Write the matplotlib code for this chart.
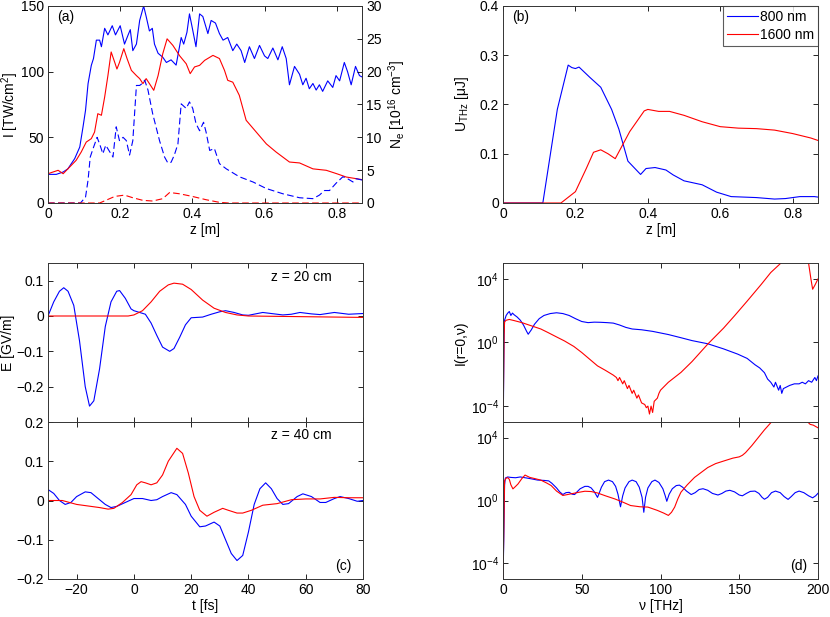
import numpy as np
import matplotlib
matplotlib.use("Agg")
import matplotlib.pyplot as plt

plt.rcParams['font.family'] = ['Liberation Sans', 'DejaVu Sans']
FS = 10
plt.rcParams['font.size'] = FS
plt.rcParams['mathtext.fontset'] = 'custom'
plt.rcParams['mathtext.rm'] = 'Liberation Sans'
plt.rcParams['mathtext.it'] = 'Liberation Sans'

BLUE = '#0000ff'
RED = '#ff0000'

# ---------------- panel (a) ----------------
za_blue = [0, 0.023, 0.042, 0.055, 0.074, 0.088, 0.097, 0.104, 0.111, 0.12, 0.126, 0.134, 0.143, 0.148,
           0.157, 0.166, 0.178, 0.187, 0.2, 0.212, 0.222, 0.228, 0.235, 0.245, 0.254, 0.265, 0.272, 0.281,
           0.289, 0.295, 0.305, 0.318, 0.328, 0.341, 0.355, 0.369, 0.376, 0.385, 0.392, 0.4, 0.41, 0.42,
           0.429, 0.443, 0.452, 0.464, 0.475, 0.485, 0.498, 0.512, 0.523, 0.535, 0.545, 0.558, 0.572, 0.586,
           0.6, 0.609, 0.623, 0.637, 0.649, 0.66, 0.669, 0.683, 0.697, 0.706, 0.715, 0.724, 0.734, 0.743,
           0.752, 0.761, 0.775, 0.789, 0.798, 0.808, 0.821, 0.83, 0.84, 0.852, 0.863, 0.87]
Ia_blue = [21.8, 21.8, 23.6, 26, 33.8, 42.6, 57.9, 70.6, 90.9, 104.8, 110, 124, 124, 119,
           133, 128, 135, 128, 135, 121, 128, 132, 116, 121, 139, 150, 142, 131,
           133, 121, 114, 111, 107, 109, 105, 126, 121, 130, 144, 133, 119, 144,
           142, 129, 139, 137, 129, 124, 126, 116, 121, 116, 107, 119, 110, 120,
           112, 110, 118, 109, 119, 110, 90, 104, 98, 90, 95, 87, 91, 86,
           90, 85, 93, 88, 97, 93, 107, 100, 90, 104, 97, 96]

za_red = [0, 0.028, 0.042, 0.06, 0.078, 0.092, 0.106, 0.12, 0.129, 0.138, 0.148, 0.157, 0.166, 0.175,
          0.185, 0.191, 0.198, 0.21, 0.219, 0.231, 0.245, 0.254, 0.263, 0.272, 0.281, 0.293, 0.305, 0.318,
          0.33, 0.346, 0.365, 0.383, 0.394, 0.406, 0.42, 0.434, 0.457, 0.475, 0.489, 0.498, 0.512, 0.53,
          0.549, 0.577, 0.605, 0.632, 0.669, 0.697, 0.734, 0.771, 0.8, 0.826, 0.87]
Ia_red = [22.3, 24.9, 22.3, 27.4, 32.5, 38.8, 46.4, 49, 54, 68, 66.8, 80.7, 97, 115,
          107, 102, 107, 117.5, 110, 101, 97, 94.7, 90.9, 94.7, 90.9, 85.8, 97, 113.7,
          125, 120, 112, 106, 98.5, 103.6, 104.8, 108.6, 112.4, 110, 101, 93.4, 92, 82,
          63, 54, 45, 38.8, 31.2, 30.5, 26, 24.9, 22.3, 19.8, 17.8]

zn_blue = [0, 0.09, 0.104, 0.111, 0.117, 0.125, 0.136, 0.143, 0.152, 0.16, 0.171, 0.18, 0.189, 0.198,
           0.208, 0.217, 0.226, 0.235, 0.245, 0.254, 0.261, 0.268, 0.277, 0.29, 0.309, 0.323, 0.332,
           0.341, 0.35, 0.36, 0.369, 0.383, 0.392, 0.401, 0.41, 0.42, 0.431, 0.438, 0.448, 0.461,
           0.475, 0.494, 0.53, 0.568, 0.605, 0.651, 0.697, 0.734, 0.752, 0.766, 0.78, 0.798, 0.817,
           0.83, 0.845, 0.854, 0.87]
Ne_blue = [0, 0, 0.9, 3.5, 7, 8.3, 10, 9, 7.5, 8.8, 7.8, 7, 11.6, 9.5,
           10, 9.5, 7.3, 9.5, 17.9, 17.9, 18.2, 18.7, 17.2, 13.6, 9.5, 7, 6.1,
           6.2, 7.3, 9, 15.1, 14.4, 15.4, 14.4, 12.1, 11, 12.3, 10.8, 8, 8.3,
           6, 5.2, 4, 3.2, 2.2, 1.4, 0.8, 0.66, 1.2, 1.9, 1.9, 3, 4,
           3.7, 3.2, 3.7, 3.5]

zn_red = [0, 0.143, 0.16, 0.185, 0.212, 0.235, 0.263, 0.29, 0.318, 0.337, 0.365, 0.4, 0.438, 0.475, 0.5, 0.87]
Ne_red = [0, 0, 0.4, 1.0, 1.2, 0.8, 0.4, 0.3, 0.66, 1.6, 1.4, 1.0, 0.5, 0.1, 0, 0]

# ---------------- panel (b) ----------------
zb_blue = [0, 0.11, 0.15, 0.18, 0.19, 0.20, 0.21, 0.24, 0.27, 0.30, 0.32, 0.345, 0.38, 0.395, 0.42,
           0.45, 0.47, 0.50, 0.55, 0.59, 0.63, 0.70, 0.75, 0.78, 0.82, 0.86, 0.87]
U_blue = [0, 0, 0.19, 0.28, 0.275, 0.273, 0.276, 0.255, 0.235, 0.19, 0.15, 0.085, 0.058, 0.07, 0.072,
          0.067, 0.057, 0.045, 0.037, 0.022, 0.013, 0.011, 0.008, 0.009, 0.013, 0.013, 0.012]
zb_red = [0, 0.16, 0.2, 0.23, 0.25, 0.27, 0.29, 0.31, 0.35, 0.39, 0.40, 0.43, 0.46, 0.50, 0.55, 0.60,
          0.65, 0.70, 0.75, 0.80, 0.85, 0.87]
U_red = [0, 0, 0.023, 0.07, 0.103, 0.108, 0.1, 0.09, 0.145, 0.187, 0.19, 0.186, 0.186, 0.178, 0.165,
         0.155, 0.152, 0.151, 0.148, 0.141, 0.132, 0.127]

# ---------------- panel (c) ----------------
t20_blue = [-30, -28, -26, -24.5, -23, -21, -19, -17, -15.5, -14, -12, -10, -8, -6, -5, -3, -1, 0, 2,
            4, 6, 8, 10, 12.5, 14, 16, 18, 20, 24, 27, 30, 32, 35, 38, 40, 45, 48, 52, 55, 58, 62,
            65, 70, 75, 80]
E20_blue = [0, 0.04, 0.07, 0.08, 0.07, 0.03, -0.07, -0.2, -0.255, -0.24, -0.15, -0.03, 0.04, 0.07,
            0.072, 0.05, 0.02, 0.015, 0.01, 0.005, -0.02, -0.055, -0.088, -0.1, -0.092, -0.06, -0.025,
            -0.005, -0.003, 0.005, 0.012, 0.015, 0.01, 0.003, 0.002, 0.01, 0.007, 0.003, 0.005, 0.01,
            0.006, 0.004, 0.01, 0.005, 0.007]
t20_red = [-30, -2, 0, 3, 6, 9, 12, 14, 17, 20, 24, 28, 32, 36, 40, 50, 60, 70, 80]
E20_red = [0, 0, 0.003, 0.015, 0.04, 0.07, 0.088, 0.093, 0.09, 0.075, 0.045, 0.022, 0.01, 0.003, 0.0,
           -0.001, -0.002, -0.003, -0.004]

t40_blue = [-30, -28, -26, -24, -22, -20, -17, -15, -13, -10, -8, -6, -3, 0, 3, 6, 8, 10, 13, 15, 18,
            20, 23, 25, 28, 30, 32, 34, 36, 38, 40, 42, 44, 46, 48, 50, 52, 54, 57, 59, 62, 65, 67,
            70, 72, 75, 78, 80]
E40_blue = [0.028, 0.018, 0.0, -0.01, -0.005, 0.01, 0.022, 0.02, 0.008, -0.01, -0.018, -0.015, -0.005,
            0.005, 0.005, 0.0, 0.002, 0.01, 0.02, 0.015, -0.01, -0.04, -0.067, -0.065, -0.055, -0.065,
            -0.1, -0.135, -0.153, -0.14, -0.08, -0.01, 0.03, 0.045, 0.03, 0.005, -0.01, -0.008, 0.01,
            0.017, 0.01, -0.005, -0.005, 0.005, 0.01, 0.005, -0.002, 0.0]
t40_red = [-30, -25, -20, -15, -12, -9, -7, -4, -1, 1, 2.5, 4, 6, 8, 10, 12, 15, 17, 19, 21, 23, 25.5,
           28, 31, 33, 36, 38, 41, 45, 50, 55, 60, 65, 70, 75, 80]
E40_red = [0.0, 0.0, -0.01, -0.015, -0.018, -0.022, -0.02, -0.005, 0.015, 0.04, 0.048, 0.045, 0.04,
           0.045, 0.065, 0.1, 0.133, 0.12, 0.07, 0.01, -0.025, -0.04, -0.03, -0.02, -0.025, -0.032,
           -0.032, -0.025, -0.012, -0.008, 0.002, 0.004, 0.004, 0.008, 0.007, 0.007]

# ---------------- panel (d) : log10 of spectral intensity ----------------
nu20_blue = [0, 0.3, 0.7, 1, 2, 3, 4, 5, 6, 7, 9, 11, 13, 15, 16, 18, 20, 23, 26, 30, 34, 38, 42, 46,
             50, 54, 58, 62, 66, 70, 74, 78, 82, 88, 95, 100, 105, 113, 120, 130, 140, 149, 155, 160,
             163, 166, 168, 170, 172, 173, 175, 176, 177, 178, 180, 182, 185, 188, 190, 192, 194, 196,
             198, 199, 200]
L20_blue = [-5, -3.5, 0.5, 1.4, 1.7, 1.85, 1.95, 1.7, 1.85, 1.75, 1.6, 1.4, 1.1, 0.7, 0.52, 0.8, 1.15,
            1.5, 1.7, 1.82, 1.87, 1.82, 1.7, 1.5, 1.32, 1.25, 1.28, 1.27, 1.25, 1.22, 1.1, 0.95, 0.85,
            0.8, 0.7, 0.6, 0.5, 0.3, 0.12, -0.08, -0.4, -0.73, -1.0, -1.4, -1.6, -1.9, -2.3, -2.5, -2.8,
            -2.5, -3.0, -2.7, -3.2, -2.9, -2.8, -2.7, -2.6, -2.6, -2.5, -2.6, -2.4, -2.5, -2.2, -2.4, -2.1]
nu20_red = [0, 0.3, 0.7, 1, 2, 4, 7, 12, 18, 24, 28.5, 34, 39, 45, 50, 55, 60, 65, 70, 72, 73, 74, 76,
            77, 79, 80, 82, 83, 85, 86, 88, 90, 91, 92, 93, 94, 95, 96, 98, 99, 100, 105, 113, 120, 130,
            140, 147, 155, 164, 170, 176.5, 180, 185, 190, 194, 195.5, 196.6, 198, 200]
L20_red = [-5, -3, 0.5, 1.3, 1.4, 1.45, 1.38, 1.25, 1.05, 0.85, 0.63, 0.35, 0.1, -0.25, -0.63, -1.05,
           -1.47, -1.75, -2.05, -2.2, -2.4, -2.2, -2.6, -2.4, -2.9, -2.7, -3.2, -3.0, -3.5, -3.3, -3.8,
           -3.9, -4.1, -4.0, -4.5, -4.0, -4.4, -3.7, -3.5, -3.2, -3.0, -2.5, -1.88, -1.2, -0.1, 0.9,
           1.68, 2.6, 3.66, 4.4, 5.0, 5.6, 6.0, 5.8, 5.0, 4.0, 3.35, 3.6, 4.0]

nu40_blue = [0, 0.5, 1, 1.5, 3, 5, 8, 11, 14, 18, 22, 26, 29, 31, 34, 36, 38, 40, 42, 44, 45.5, 47, 49,
             52, 54, 56, 58, 60, 61, 62.5, 64.5, 67, 69.5, 71.5, 73, 74.6, 76, 77.5, 80, 82, 84.5, 86.5,
             88.3, 89.4, 90.5, 92, 94.5, 96.5, 99, 101.5, 103, 104, 105.5, 107.5, 110, 112, 114, 116.5,
             119.5, 122, 124.5, 127, 130, 133, 136.5, 139, 141.5, 144, 147, 150, 152, 154.5, 157, 160,
             162.5, 164.5, 166, 168, 170.5, 173, 176, 178.5, 181, 183, 185.5, 188, 191, 194, 196.6,
             198.5, 200]
L40_blue = [-5, -2.5, 1.0, 1.43, 1.5, 1.47, 1.45, 1.5, 1.45, 1.38, 1.3, 1.28, 1.25, 1.1, 0.8, 0.55,
            0.38, 0.5, 0.52, 0.4, 0.38, 0.55, 0.75, 0.9, 0.9, 0.8, 0.55, 0.2, 0.45, 0.85, 1.2, 1.3, 1.2,
            0.9, 0.4, -0.4, 0.3, 0.8, 1.2, 1.3, 1.2, 0.85, 0.2, -0.75, 0.2, 0.8, 1.2, 1.3, 1.15, 0.75,
            0.3, -0.05, 0.4, 0.75, 0.95, 0.98, 0.85, 0.6, 0.38, 0.5, 0.7, 0.75, 0.65, 0.45, 0.35, 0.45,
            0.6, 0.65, 0.55, 0.35, 0.3, 0.45, 0.58, 0.6, 0.45, 0.2, 0.08, 0.2, 0.5, 0.6, 0.5, 0.25,
            0.07, 0.25, 0.5, 0.6, 0.5, 0.3, 0.17, 0.3, 0.46]
nu40_red = [0, 0.5, 1, 2, 3, 4, 5, 6.3, 8, 9.5, 12, 14, 17, 20, 24, 28, 30.6, 34, 38, 43, 48, 52, 56,
            60, 65, 71, 76, 81, 87, 92, 98, 102, 105, 107, 109, 111, 113, 117, 121.6, 126, 130, 135,
            140.6, 146, 150, 152, 154, 158, 162, 166, 170, 172, 180, 190, 193.5, 195, 197, 200]
L40_red = [-5, -2, 1.26, 1.43, 1.45, 1.35, 1.0, 0.74, 0.9, 1.05, 1.4, 1.62, 1.47, 1.4, 1.3, 1.1, 0.95,
           0.6, 0.32, 0.42, 0.52, 0.59, 0.57, 0.48, 0.3, 0.1, -0.1, -0.32, -0.4, -0.42, -0.63, -0.8,
           -0.95, -0.75, -0.42, 0.1, 0.53, 1.0, 1.47, 1.8, 2.1, 2.35, 2.53, 2.7, 2.78, 2.88, 3.05, 3.5,
           4.0, 4.5, 4.95, 5.3, 6.0, 5.8, 5.0, 4.85, 4.8, 4.63]

labels = ['800 nm', '1600 nm']

# ======================================================================
W, H = 830, 617
fig = plt.figure(figsize=(W / 100, H / 100), dpi=100)


def box(l, t, r, b):
    return [l / W, 1 - b / H, (r - l) / W, (b - t) / H]


def style(ax, right=True):
    ax.tick_params(direction='in', length=3.5, width=0.6, top=True, right=right, labelsize=FS,
                   pad=3, colors='black')
    ax.tick_params(which='minor', length=0)
    for s in ax.spines.values():
        s.set_linewidth(0.7)
        s.set_color('#333333')


lw = 0.8
dash = (0, (6, 3))

# (a)
axa = fig.add_axes(box(48, 6, 362, 203))
axa.plot(za_blue, Ia_blue, color=BLUE, lw=lw)
axa.plot(za_red, Ia_red, color=RED, lw=lw)
axa.set_xlim(0, 0.87)
axa.set_ylim(0, 150)
axa.set_yticks([0, 50, 100, 150])
axa.set_xticks([0, 0.2, 0.4, 0.6, 0.8])
axa.set_xticklabels(['0', '0.2', '0.4', '0.6', '0.8'])
axa.set_xlabel('z [m]', labelpad=1)
axa.set_ylabel('I [TW/cm$^2$]', labelpad=0)
style(axa, right=False)
axa2 = axa.twinx()
axa2.plot(zn_blue, Ne_blue, color=BLUE, lw=lw, ls=dash)
axa2.plot(zn_red, Ne_red, color=RED, lw=lw, ls=dash)
axa2.set_ylim(0, 30)
axa2.set_yticks([0, 5, 10, 15, 20, 25, 30])
axa2.set_ylabel('N$_e$ [10$^{16}$ cm$^{-3}$]', labelpad=3)
axa2.tick_params(direction='in', length=3.5, width=0.6, labelsize=FS, pad=3)
for s in axa2.spines.values():
    s.set_linewidth(0.7)
    s.set_color('#333333')
axa.text(0.03, 0.945, '(a)', transform=axa.transAxes, ha='left', va='center')

# (b)
axb = fig.add_axes(box(503, 6, 818, 203))
axb.plot(zb_blue, U_blue, color=BLUE, lw=lw, label=labels[0])
axb.plot(zb_red, U_red, color=RED, lw=lw, label=labels[1])
axb.set_xlim(0, 0.87)
axb.set_ylim(0, 0.4)
axb.set_yticks([0, 0.1, 0.2, 0.3, 0.4])
axb.set_yticklabels(['0', '0.1', '0.2', '0.3', '0.4'])
axb.set_xticks([0, 0.2, 0.4, 0.6, 0.8])
axb.set_xticklabels(['0', '0.2', '0.4', '0.6', '0.8'])
axb.set_xlabel('z [m]', labelpad=1)
axb.set_ylabel('U$_{THz}$ [μJ]', labelpad=6)
style(axb)
leg = axb.legend(loc='upper right', bbox_to_anchor=(1.0, 1.0), frameon=True, fancybox=False,
                 edgecolor='#333333', handlelength=2.2, handletextpad=0.15, borderpad=0.3,
                 labelspacing=0.25, borderaxespad=0.0, fontsize=FS)
leg.get_frame().set_linewidth(0.8)
axb.text(0.03, 0.945, '(b)', transform=axb.transAxes, ha='left', va='center')

# (c)
axc1 = fig.add_axes(box(48, 263, 363, 422))
axc1.plot(t20_blue, E20_blue, color=BLUE, lw=lw)
axc1.plot(t20_red, E20_red, color=RED, lw=lw)
axc1.set_xlim(-30, 80)
axc1.set_ylim(-0.3, 0.15)
axc1.set_yticks([-0.2, -0.1, 0, 0.1])
axc1.set_yticklabels(['\u22120.2', '\u22120.1', '0', '0.1'])
axc1.set_xticks([-20, 0, 20, 40, 60, 80])
axc1.set_xticklabels([])
axc1.set_ylabel('E [GV/m]', labelpad=1)
style(axc1)
axc1.text(0.90, 0.915, 'z = 20 cm', transform=axc1.transAxes, ha='right', va='center')

axc2 = fig.add_axes(box(48, 422, 363, 579))
axc2.plot(t40_blue, E40_blue, color=BLUE, lw=lw)
axc2.plot(t40_red, E40_red, color=RED, lw=lw)
axc2.set_xlim(-30, 80)
axc2.set_ylim(-0.2, 0.2)
axc2.set_yticks([-0.2, -0.1, 0, 0.1, 0.2])
axc2.set_yticklabels(['\u22120.2', '\u22120.1', '0', '0.1', '0.2'])
axc2.set_xticks([-20, 0, 20, 40, 60, 80])
axc2.set_xticklabels(['\u221220', '0', '20', '40', '60', '80'])
axc2.set_xlabel('t [fs]', labelpad=1)
style(axc2)
axc2.text(0.90, 0.915, 'z = 40 cm', transform=axc2.transAxes, ha='right', va='center')
axc2.text(0.965, 0.085, '(c)', transform=axc2.transAxes, ha='right', va='center')

# (d)
def log_panel(ax):
    ax.set_yscale('log')
    ax.set_xlim(0, 200)
    ax.set_ylim(1e-5, 1e5)
    ax.set_yticks([1e-4, 1, 1e4])
    ax.set_yticklabels(['10$^{-4}$', '10$^{0}$', '10$^{4}$'])
    ax.set_xticks([0, 50, 100, 150, 200])
    ax.yaxis.set_minor_locator(matplotlib.ticker.NullLocator())

axd1 = fig.add_axes(box(503, 263, 818, 422))
axd1.plot(nu20_blue, 10.0 ** np.array(L20_blue), color=BLUE, lw=lw)
axd1.plot(nu20_red, 10.0 ** np.array(L20_red), color=RED, lw=lw)
log_panel(axd1)
axd1.set_xticklabels([])
axd1.set_ylabel('I(r=0,ν)', labelpad=2)
style(axd1)

axd2 = fig.add_axes(box(503, 422, 818, 579))
axd2.plot(nu40_blue, 10.0 ** np.array(L40_blue), color=BLUE, lw=lw)
axd2.plot(nu40_red, 10.0 ** np.array(L40_red), color=RED, lw=lw)
log_panel(axd2)
axd2.set_xlabel('ν [THz]', labelpad=1)
style(axd2)
axd2.text(0.965, 0.085, '(d)', transform=axd2.transAxes, ha='right', va='center')

fig.savefig('out.png', dpi=100)
